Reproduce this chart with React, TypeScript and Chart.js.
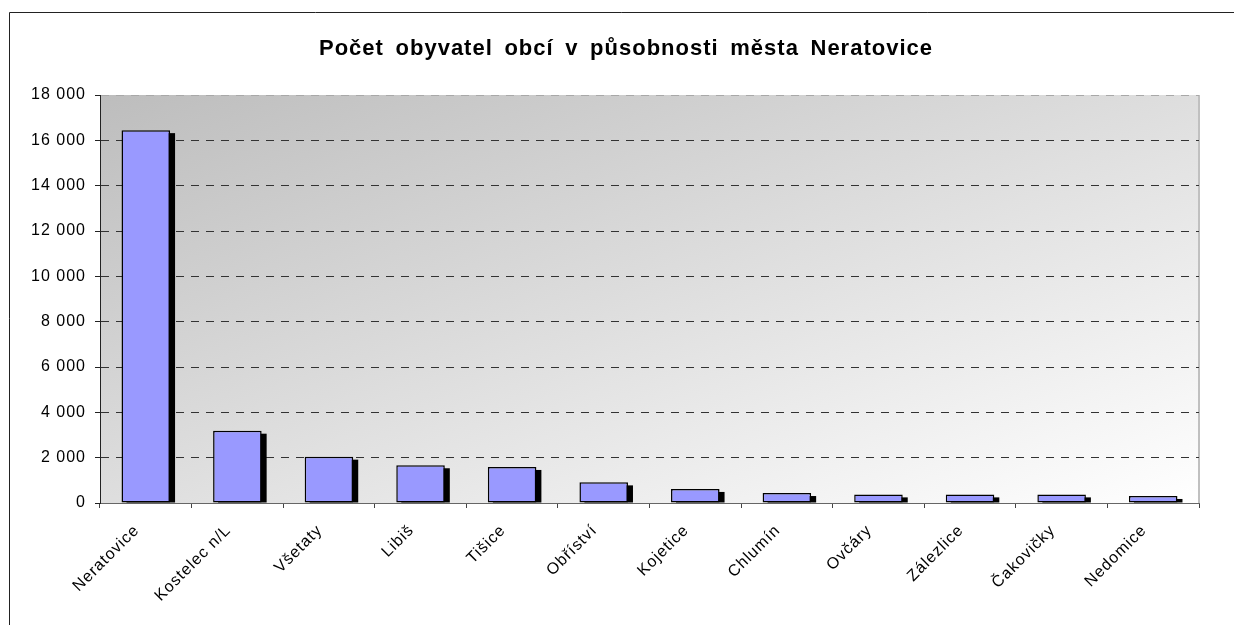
import React, { useEffect, useRef } from "react";
import { Chart, registerables } from "chart.js";

Chart.register(...registerables);

const TITLE = "Počet obyvatel obcí v působnosti města Neratovice";
const categories = [
  "Neratovice",
  "Kostelec n/L",
  "Všetaty",
  "Libiš",
  "Tišice",
  "Obříství",
  "Kojetice",
  "Chlumín",
  "Ovčáry",
  "Zálezlice",
  "Čakovičky",
  "Nedomice",
];
const population = [16450, 3190, 2045, 1665, 1590, 910, 620, 440, 380, 380, 380, 310];
const yMin = 0;
const yMax = 18000;
const yStep = 2000;

const FONT = "'Liberation Sans', Arial, sans-serif";

function fmt(v: number): string {
  return String(v).replace(/\B(?=(\d{3})+(?!\d))/g, " ");
}

const framePlugin = {
  id: "frameAndBg",
  beforeDraw(chart: any) {
    const { ctx, chartArea: a } = chart;
    (ctx as any).letterSpacing = "1px";
    ctx.save();
    // outer frame
    ctx.strokeStyle = "#222";
    ctx.lineWidth = 1;
    ctx.beginPath();
    ctx.moveTo(9.5, chart.height);
    ctx.lineTo(9.5, 12.5);
    ctx.lineTo(chart.width, 12.5);
    ctx.stroke();
    // plot background gradient (diagonal)
    const w = a.right - a.left;
    const h = a.bottom - a.top;
    const len = Math.sqrt(w * w + h * h);
    const L = (2 * w * h) / len;
    const dx = (h / len) * L;
    const dy = (w / len) * L;
    const g = ctx.createLinearGradient(a.left, a.top, a.left + dx, a.top + dy);
    g.addColorStop(0, "#bdbdbd");
    g.addColorStop(1, "#ffffff");
    ctx.fillStyle = g;
    ctx.fillRect(a.left, a.top, w, h);
    // right border of plot
    ctx.strokeStyle = "#c0c0c0";
    ctx.lineWidth = 2;
    ctx.beginPath();
    ctx.moveTo(a.right, a.top);
    ctx.lineTo(a.right, a.bottom);
    ctx.stroke();
    ctx.restore();
  },
  beforeDatasetsDraw(chart: any) {
    const { ctx, chartArea: a } = chart;
    ctx.save();
    ctx.beginPath();
    ctx.rect(a.left, a.top, a.right - a.left, a.bottom - a.top);
    ctx.clip();
    ctx.fillStyle = "#000";
    const meta = chart.getDatasetMeta(0);
    meta.data.forEach((el: any) => {
      const p = el.getProps(["x", "y", "base", "width"], true);
      const left = p.x - p.width / 2 + 5;
      const top = p.y + 3;
      ctx.fillRect(left, top, p.width, p.base - top);
    });
    ctx.restore();
  },
  afterDraw(chart: any) {
    const ctx = chart.ctx;
    ctx.save();
    ctx.font = `bold 22px ${FONT}`;
    ctx.fillStyle = "#000";
    ctx.textAlign = "left";
    ctx.textBaseline = "alphabetic";
    const target = 614;
    (ctx as any).letterSpacing = "1px";
    (ctx as any).wordSpacing = "0px";
    const base = ctx.measureText(TITLE).width;
    const spaces = TITLE.split(" ").length - 1;
    const ws = Math.max(0, (target - base) / spaces);
    (ctx as any).wordSpacing = `${ws}px`;
    ctx.fillText(TITLE, 626 - target / 2, 55);
    ctx.restore();
  },
};

export default function App() {
  const ref = useRef<HTMLCanvasElement | null>(null);
  useEffect(() => {
    if (!ref.current) return;
    const chart = new Chart(ref.current, {
      type: "bar",
      data: {
        labels: categories,
        datasets: [
          {
            data: population,
            backgroundColor: "#9999ff",
            borderColor: "#000",
            borderWidth: 1.5,
            borderSkipped: false,
            barPercentage: 0.53,
            categoryPercentage: 1,
            clip: 0,
          },
        ],
      },
      options: {
        animation: false,
        responsive: true,
        maintainAspectRatio: false,
        layout: { padding: { left: 20, right: 35, top: 95, bottom: 0 } },
        plugins: {
          legend: { display: false },
          title: { display: false },
          tooltip: { enabled: false },
        },
        scales: {
          x: {
            afterFit(s: any) {
              s.height = 122;
            },
            grid: {
              display: true,
              drawOnChartArea: false,
              drawTicks: true,
              tickLength: 5,
              tickColor: "#444",
              offset: true,
            },
            border: { display: true, color: "#666", width: 1 },
            ticks: {
              color: "#000",
              font: { family: FONT, size: 16 },
              minRotation: 45,
              maxRotation: 45,
              padding: 13,
              labelOffset: -9,
              autoSkip: false,
            },
          },
          y: {
            min: yMin,
            max: yMax,
            afterFit(s: any) {
              s.width = 80;
            },
            grid: {
              color: (c: any) => (c.tick && c.tick.value === yMax ? "#a8a8a8" : "#333"),
              lineWidth: 1,
              tickLength: 5,
              tickColor: "#222",
            },
            border: { display: true, color: "#222", width: 1, dash: [8, 7] },
            ticks: {
              stepSize: yStep,
              color: "#000",
              padding: 9,
              font: { family: FONT, size: 16 },
              callback: (v: any) => fmt(Number(v)),
            },
          },
        },
      },
      plugins: [framePlugin],
    });
    return () => chart.destroy();
  }, []);
  return (
    <div style={{ position: "absolute", left: 0, top: 0, width: 1234, height: 625 }}>
      <canvas ref={ref} />
    </div>
  );
}
